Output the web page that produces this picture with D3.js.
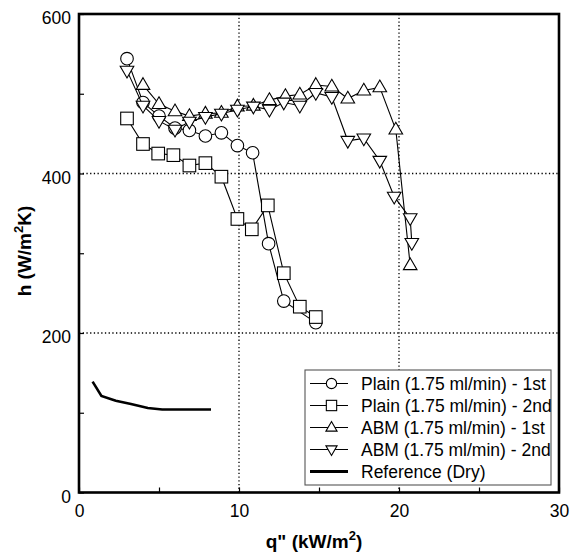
<!DOCTYPE html>
<html>
<head>
<meta charset="utf-8">
<script src="https://cdn.jsdelivr.net/npm/d3@7"></script>
<style>
  body { margin: 0; background: #fff; }
  text { font-family: Arial, "Liberation Sans", sans-serif; }
</style>
</head>
<body>
<div id="chart"></div>
<script>
// data
var plain1X = [3.0, 4.0, 5.0, 6.0, 6.9, 7.9, 8.9, 9.9, 10.85, 11.85, 12.8, 14.8];
var plain1Y = [544, 489, 472, 457, 454, 447, 451, 435, 426, 312, 240, 213];

var plain2X = [3.0, 4.0, 4.95, 5.9, 6.9, 7.9, 8.9, 9.9, 10.8, 11.8, 12.8, 13.8, 14.8];
var plain2Y = [469, 437, 425, 423, 410, 413, 396, 343, 330, 360, 275, 233, 220];

var abm1X = [4.0, 5.0, 6.0, 6.9, 7.9, 8.9, 9.9, 10.9, 11.9, 12.9, 13.8, 14.8, 15.8, 16.8, 17.8, 18.8, 19.8, 20.7];
var abm1Y = [511, 487, 478, 472, 475, 476, 484, 485, 492, 497, 499, 511, 509, 494, 504, 508, 455, 285];

var abm2X = [3.0, 4.0, 5.0, 6.0, 6.9, 7.9, 8.9, 9.9, 10.9, 11.9, 12.8, 13.8, 14.8, 15.8, 16.8, 17.8, 18.8, 19.7, 20.7, 20.8];
var abm2Y = [529, 485, 466, 455, 465, 471, 475, 480, 484, 480, 489, 485, 501, 496, 441, 444, 416, 371, 344, 313];

var dryX = [0.85, 1.4, 2.3, 3.25, 4.3, 5.2, 6.2, 7.2, 8.25];
var dryY = [139, 121, 115, 111, 106, 104, 104, 104, 104];

var xTicks = [0, 5, 10, 15, 20, 25, 30];
var yTicks = [0, 100, 200, 300, 400, 500, 600];
var xGrid = [10, 20];
var yGrid = [200, 400];

var legendLabels = ["Plain (1.75 ml/min) - 1st", "Plain (1.75 ml/min) - 2nd",
  "ABM (1.75 ml/min) - 1st", "ABM (1.75 ml/min) - 2nd", "Reference (Dry)"];

var width = 575, height = 558;
var margin = {top: 14, right: 16, bottom: 65.5, left: 79};
var w = width - margin.left - margin.right;
var h = height - margin.top - margin.bottom;

var svg = d3.select("#chart")
    .append("svg")
    .attr("width", width)
    .attr("height", height);

var g = svg.append("g")
    .attr("transform", "translate(" + margin.left + "," + margin.top + ")");

var x = d3.scaleLinear().domain([0, 30]).range([0, w]);
var y = d3.scaleLinear().domain([0, 600]).range([h, 0]);

// dotted grid
g.selectAll(".gx").data(xGrid).enter().append("line")
    .attr("x1", d => x(d)).attr("x2", d => x(d))
    .attr("y1", 0).attr("y2", h)
    .style("stroke", "#000").style("stroke-width", 1.3)
    .style("stroke-dasharray", "1.3,2.4");
g.selectAll(".gy").data(yGrid).enter().append("line")
    .attr("x1", 0).attr("x2", w)
    .attr("y1", d => y(d)).attr("y2", d => y(d))
    .style("stroke", "#000").style("stroke-width", 1.3)
    .style("stroke-dasharray", "1.3,2.4");

// axes
var xAxis = g.append("g")
    .attr("transform", "translate(0," + h + ")")
    .call(d3.axisBottom(x).tickValues(xTicks).tickSizeInner(-5).tickSizeOuter(0)
      .tickPadding(12).tickFormat(d => d % 10 === 0 ? d : ""));
var yAxis = g.append("g")
    .call(d3.axisLeft(y).tickValues(yTicks).tickSizeInner(-5).tickSizeOuter(0)
      .tickPadding(8).tickFormat(d => d % 200 === 0 ? d : ""));

[xAxis, yAxis].forEach(function(a){
  a.select(".domain").remove();
  a.selectAll("text").style("font-size", "17.5px").style("fill", "#000")
    .style("font-family", "Arial, 'Liberation Sans', sans-serif");
  a.selectAll("line").style("stroke", "#000").style("stroke-width", 1.2);
});
yAxis.selectAll("text").attr("dy", "0.55em");

// frame
g.append("rect")
    .attr("x", 0).attr("y", 0).attr("width", w).attr("height", h)
    .style("fill", "none").style("stroke", "#000").style("stroke-width", 2.6);

function zip(xs, ys){ return xs.map((v, i) => ({x: v, y: ys[i]})); }

var line = d3.line().x(d => x(d.x)).y(d => y(d.y));

function shapeFn(k){
  var s = k || 1;
  return {
    circle: function(sel){ sel.append("circle").attr("r", 6.3 * s); },
    square: function(sel){ sel.append("rect").attr("x", -6.3 * s).attr("y", -6.3 * s).attr("width", 12.6 * s).attr("height", 12.6 * s); },
    up: function(sel){ sel.append("path").attr("d", "M0," + (-7.3 * s) + "L" + (6.8 * s) + "," + (4.4 * s) + "L" + (-6.8 * s) + "," + (4.4 * s) + "Z"); },
    down: function(sel){ sel.append("path").attr("d", "M0," + (7.3 * s) + "L" + (6.8 * s) + "," + (-4.4 * s) + "L" + (-6.8 * s) + "," + (-4.4 * s) + "Z"); }
  };
}
var shapes = shapeFn(1);
var legendShapes = shapeFn(0.82);

var series = [
  {data: zip(plain1X, plain1Y), shape: "circle"},
  {data: zip(plain2X, plain2Y), shape: "square"},
  {data: zip(abm1X, abm1Y), shape: "up"},
  {data: zip(abm2X, abm2Y), shape: "down"}
];

series.forEach(function(s){
  g.append("path")
      .datum(s.data)
      .attr("d", line)
      .style("fill", "none").style("stroke", "#000").style("stroke-width", 1.1);
  var m = g.selectAll(null).data(s.data).enter().append("g")
      .attr("transform", d => "translate(" + x(d.x) + "," + y(d.y) + ")");
  shapes[s.shape](m);
  m.selectAll("*").style("fill", "#fff").style("stroke", "#000").style("stroke-width", 1.1);
});

g.append("path")
    .datum(zip(dryX, dryY))
    .attr("d", line)
    .style("fill", "none").style("stroke", "#000").style("stroke-width", 2.6);

// legend
var lg = svg.append("g").attr("transform", "translate(305,370)");
lg.append("rect").attr("width", 246).attr("height", 115)
    .style("fill", "#fff").style("stroke", "#555").style("stroke-width", 1.1);
var rows = lg.selectAll(".row").data(legendLabels).enter().append("g")
    .attr("transform", (d, i) => "translate(0," + (13.5 + i * 22) + ")");
rows.append("line").attr("x1", 5).attr("x2", 43)
    .style("stroke", "#000").style("stroke-width", (d, i) => i === 4 ? 3 : 1.1);
var shapeOrder = ["circle", "square", "up", "down"];
rows.each(function(d, i){
  if (i < 4) {
    var m = d3.select(this).append("g").attr("transform", "translate(26.5,0)");
    legendShapes[shapeOrder[i]](m);
    m.selectAll("*").style("fill", "#fff").style("stroke", "#000").style("stroke-width", 1.1);
  }
});
rows.append("text").attr("x", 56).attr("dy", "0.36em")
    .style("font-size", "17.5px").text(d => d);

// axis titles
var xt = svg.append("text")
    .attr("x", margin.left + w / 2 - 5).attr("y", 548)
    .attr("text-anchor", "middle")
    .style("font-size", "19px").style("font-weight", "bold");
xt.append("tspan").text("q\" (kW/m");
xt.append("tspan").attr("dy", -8).style("font-size", "13px").text("2");
xt.append("tspan").attr("dy", 8).text(")");

var yt = svg.append("text")
    .attr("transform", "translate(31," + 251 + ") rotate(-90)")
    .attr("text-anchor", "middle")
    .style("font-size", "19px").style("font-weight", "bold");
yt.append("tspan").text("h (W/m");
yt.append("tspan").attr("dy", -8).style("font-size", "13px").text("2");
yt.append("tspan").attr("dy", 8).text("K)");
</script>
</body>
</html>
